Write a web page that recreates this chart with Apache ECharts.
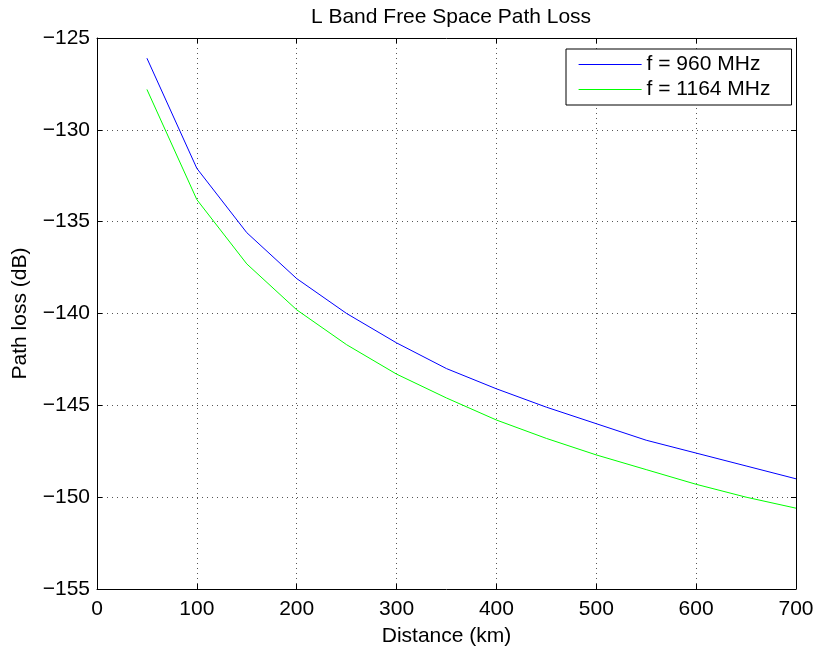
<!DOCTYPE html>
<html>
<head>
<meta charset="utf-8">
<script src="https://cdn.jsdelivr.net/npm/echarts@6/dist/echarts.min.js"></script>
<style>
html, body { margin: 0; padding: 0; background: #fff; }
#main { width: 817px; height: 647px; }
</style>
</head>
<body>
<div id="main"></div>
<script>
// distance in km
var distance = [50, 100, 150, 200, 250, 300, 350, 400, 450, 500, 550, 600, 650, 700]
// path loss in dB
var loss_960 = [-126.1, -132.1, -135.6, -138.1, -140.0, -141.6, -143.0, -144.1, -145.1, -146.0, -146.9, -147.6, -148.3, -149.0]
var loss_1164 = [-127.8, -133.8, -137.3, -139.8, -141.7, -143.3, -144.6, -145.8, -146.8, -147.7, -148.5, -149.3, -150.0, -150.6]
var series_names = ['f = 960 MHz', 'f = 1164 MHz']
var series_colors = ['#0000ff', '#00ff00']

var font = 'Liberation Sans, Arial, Helvetica, sans-serif'
var fsize = 21

function pairs(xs, ys) {
    var out = []
    for (var i = 0; i < xs.length; i++) {
        out.push([xs[i], ys[i]])
    }
    return out
}

function minus(v) {
    return String(v).replace('-', '\u2212')
}

var grid_line = {
    show: true,
    lineStyle: { color: '#555', width: 1, type: [1, 4] }
}

var legend_items = series_names.map(function (n, i) {
    return {
        name: n,
        itemStyle: { opacity: 0 },
        lineStyle: { color: series_colors[i], width: 1.2 }
    }
})

var option = {
    animation: false,
    backgroundColor: '#fff',
    title: {
        text: 'L Band Free Space Path Loss',
        left: 446,
        textAlign: 'center',
        top: 2,
        textStyle: { fontFamily: font, fontSize: fsize, fontWeight: 'normal', color: '#000' }
    },
    grid: { left: 97, right: 21, top: 38, bottom: 58, containLabel: false, outerBoundsMode: 'none' },
    legend: {
        data: legend_items,
        orient: 'vertical',
        left: 566,
        top: 49,
        padding: [5, 21, 5, 12],
        itemGap: 4,
        itemWidth: 63,
        itemHeight: 23,
        borderColor: '#000',
        borderWidth: 1,
        borderRadius: 0,
        backgroundColor: '#fff',
        textStyle: { fontFamily: font, fontSize: fsize, color: '#000' }
    },
    xAxis: [
        {
            type: 'value', min: 0, max: 700, interval: 100,
            name: 'Distance (km)', nameLocation: 'middle', nameGap: 37,
            nameTextStyle: { fontFamily: font, fontSize: fsize, color: '#000' },
            axisLine: { show: true, onZero: false, lineStyle: { color: '#000', width: 1 } },
            axisTick: { show: true, inside: true, length: 5, lineStyle: { color: '#000' } },
            axisLabel: { fontFamily: font, fontSize: fsize, color: '#000', margin: 10 },
            splitLine: grid_line
        },
        {
            type: 'value', position: 'top', min: 0, max: 700, interval: 100,
            axisLine: { show: true, onZero: false, lineStyle: { color: '#000', width: 1 } },
            axisTick: { show: true, inside: true, length: 5, lineStyle: { color: '#000' } },
            axisLabel: { show: false },
            splitLine: { show: false }
        }
    ],
    yAxis: [
        {
            type: 'value', min: -155, max: -125, interval: 5,
            name: 'Path loss (dB)', nameLocation: 'middle', nameGap: 66,
            nameTextStyle: { fontFamily: font, fontSize: fsize, color: '#000' },
            axisLine: { show: true, onZero: false, lineStyle: { color: '#000', width: 1 } },
            axisTick: { show: true, inside: true, length: 5, lineStyle: { color: '#000' } },
            axisLabel: { fontFamily: font, fontSize: fsize, color: '#000', margin: 7, formatter: minus },
            splitLine: grid_line
        },
        {
            type: 'value', position: 'right', min: -155, max: -125, interval: 5,
            axisLine: { show: true, onZero: false, lineStyle: { color: '#000', width: 1 } },
            axisTick: { show: true, inside: true, length: 5, lineStyle: { color: '#000' } },
            axisLabel: { show: false },
            splitLine: { show: false }
        }
    ],
    series: [
        {
            name: series_names[0],
            type: 'line',
            symbol: 'none',
            data: pairs(distance, loss_960),
            lineStyle: { color: series_colors[0], width: 1 },
            itemStyle: { color: series_colors[0] }
        },
        {
            name: series_names[1],
            type: 'line',
            symbol: 'none',
            data: pairs(distance, loss_1164),
            lineStyle: { color: series_colors[1], width: 1 },
            itemStyle: { color: series_colors[1] }
        }
    ]
}

var myChart = echarts.init(document.getElementById('main'))
myChart.setOption(option, true)
</script>
</body>
</html>
